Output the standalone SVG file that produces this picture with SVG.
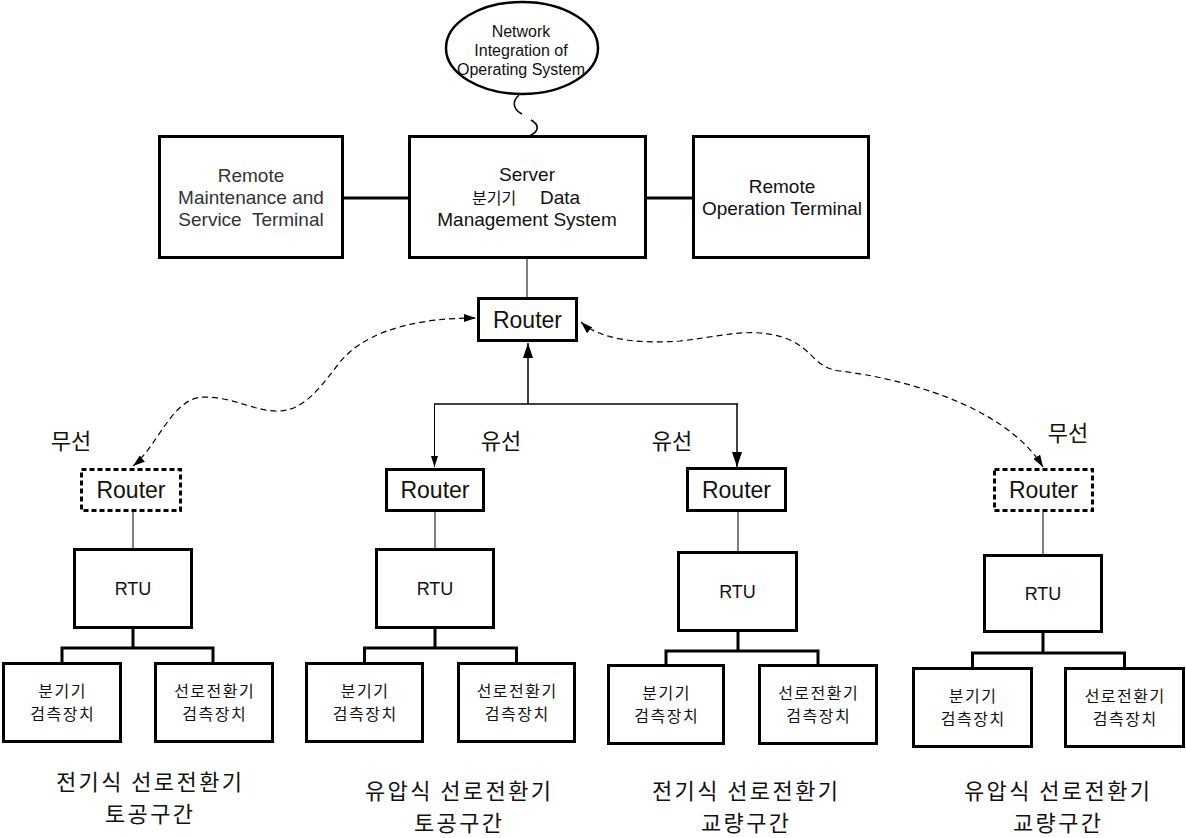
<svg xmlns="http://www.w3.org/2000/svg" width="1186" height="838" viewBox="0 0 1186 838">
<style>
text{fill:#111;}
.lat{font-family:"Liberation Sans","Noto Sans CJK KR",sans-serif;}
.kr{font-family:"Noto Sans CJK KR","Liberation Sans",sans-serif;}
.box{fill:#fff;stroke:#000;stroke-width:3;}
.dbox{fill:#fff;stroke:#000;stroke-width:3;stroke-dasharray:5 3;}
.thin{fill:none;stroke:#000;stroke-width:1;}
.mid{fill:none;stroke:#000;stroke-width:1.5;}
.thick{fill:none;stroke:#000;stroke-width:3;}
.wave{fill:none;stroke:#000;stroke-width:1.2;stroke-dasharray:6 4;}
.t19{font-size:19px;text-anchor:middle;white-space:pre;}
.t16{font-size:16px;text-anchor:middle;}
.rt{font-size:23px;text-anchor:middle;}
.rtu{font-size:18px;text-anchor:middle;}
.sub{font-size:16px;letter-spacing:1.5px;text-anchor:middle;}
.lab{font-size:22px;text-anchor:middle;}
.cap{font-size:22px;letter-spacing:2.4px;text-anchor:middle;}
</style>
<defs>
<marker id="ahBig" markerUnits="userSpaceOnUse" markerWidth="15" markerHeight="10" refX="15" refY="5" orient="auto-start-reverse"><path d="M0,0 L15,5 L0,10 z" fill="#000"/></marker>
<marker id="ahSmall" markerUnits="userSpaceOnUse" markerWidth="11" markerHeight="7" refX="11" refY="3.5" orient="auto-start-reverse"><path d="M0,0 L11,3.5 L0,7 z" fill="#000"/></marker>
<marker id="ahDash" markerUnits="userSpaceOnUse" markerWidth="12" markerHeight="8" refX="12" refY="4" orient="auto-start-reverse"><path d="M0,0 L12,4 L0,8 z" fill="#000"/></marker>
</defs>

<g id="connectors">
<line class="thick" x1="344" y1="198" x2="409" y2="198"/>
<line class="thick" x1="646" y1="198" x2="693" y2="198"/>
<path class="thin" d="M519 95 C511 102,514 110,522 114" style="stroke-width:1.6"/>
<path class="thin" d="M531 120 C540 125,539 132,529 136" style="stroke-width:1.6"/>
<line class="thin" x1="527" y1="259" x2="527" y2="297"/>
<line class="mid" x1="528" y1="404" x2="528" y2="343" marker-end="url(#ahBig)"/>
<line class="mid" x1="434" y1="404" x2="738" y2="404"/>
<line class="thin" x1="434.5" y1="404" x2="434.5" y2="467" marker-end="url(#ahSmall)"/>
<line class="mid" x1="737" y1="404" x2="737" y2="467" marker-end="url(#ahBig)"/>
<path class="wave" d="M133 466 C158 446,172 398,203 397 C235 397,255 412,280 411 C305 410,322 385,340 362 C360 338,400 318,476 318" marker-start="url(#ahDash)" marker-end="url(#ahDash)"/>
<path class="wave" d="M581 322 C600 340,640 344,680 341 C720 337,755 325,790 340 C815 352,815 368,840 371 C900 378,1005 405,1043 467" marker-start="url(#ahDash)" marker-end="url(#ahDash)"/>
<line class="thin" x1="133" y1="512" x2="133" y2="548"/>
<line class="thin" x1="435" y1="512" x2="435" y2="548"/>
<line class="thin" x1="738" y1="512" x2="738" y2="551"/>
<line class="thin" x1="1043" y1="512" x2="1043" y2="554"/>
<path class="thick" d="M133 629 V648 M62 662 V648 H213 V662"/>
<path class="thick" d="M435 629 V648 M364.5 662 V648 H516.5 V662"/>
<path class="thick" d="M738 632 V651 M666 664 V651 H818 V664"/>
<path class="thick" d="M1043 633 V653 M972.5 667 V653 H1124.5 V667"/>
</g>

<g id="cloud">
<ellipse cx="522" cy="48" rx="76" ry="46" fill="#fff" stroke="#000" stroke-width="2.5"/>
<text class="lat t16" x="521" y="37">Network</text>
<text class="lat t16" x="521" y="56">Integration of</text>
<text class="lat t16" x="521" y="75">Operating System</text>
</g>

<g id="maintenance">
<rect class="box" x="159.5" y="136.5" width="183" height="121"/>
<text class="lat t19" x="251" y="182" style="fill:#333">Remote</text>
<text class="lat t19" x="251" y="204" style="fill:#333">Maintenance and</text>
<text class="lat t19" x="251" y="226" style="fill:#333">Service  Terminal</text>
</g>

<g id="server">
<rect class="box" x="409.5" y="136.5" width="236" height="121"/>
<text class="lat t19" x="527" y="181">Server</text>
<text class="lat" x="472" y="204" style="font-size:19px"><tspan class="kr" style="font-size:16px">분기기 </tspan><tspan x="540">Data</tspan></text>
<text class="lat t19" x="527" y="226">Management System</text>
</g>

<g id="operation">
<rect class="box" x="693.5" y="136.5" width="175" height="121"/>
<text class="lat t19" x="782" y="193">Remote</text>
<text class="lat t19" x="782" y="215">Operation Terminal</text>
</g>

<g id="router-main">
<rect class="box" x="478.5" y="298.5" width="98" height="42"/>
<text class="lat rt" x="527.5" y="327.5">Router</text>
</g>

<g id="label-wireless-1"><text class="kr lab" x="71" y="449">무선</text></g>
<g id="label-wired-1"><text class="kr lab" x="501" y="449">유선</text></g>
<g id="label-wired-2"><text class="kr lab" x="672" y="449">유선</text></g>
<g id="label-wireless-2"><text class="kr lab" x="1068" y="441">무선</text></g>

<g id="router-1">
<rect class="dbox" x="81.5" y="469.5" width="99" height="41"/>
<text class="lat rt" x="131" y="498">Router</text>
</g>
<g id="router-2">
<rect class="box" x="386.5" y="469.5" width="97" height="41"/>
<text class="lat rt" x="435" y="498">Router</text>
</g>
<g id="router-3">
<rect class="box" x="687.5" y="468.5" width="98" height="42"/>
<text class="lat rt" x="736.5" y="498">Router</text>
</g>
<g id="router-4">
<rect class="dbox" x="994.5" y="469.5" width="98" height="41"/>
<text class="lat rt" x="1043.5" y="498">Router</text>
</g>

<g id="rtu-1">
<rect class="box" x="74.5" y="549.5" width="117" height="78"/>
<text class="lat rtu" x="133" y="595">RTU</text>
</g>
<g id="rtu-2">
<rect class="box" x="376.5" y="549.5" width="117" height="78"/>
<text class="lat rtu" x="435" y="595">RTU</text>
</g>
<g id="rtu-3">
<rect class="box" x="678.5" y="552.5" width="118" height="78"/>
<text class="lat rtu" x="737.5" y="598">RTU</text>
</g>
<g id="rtu-4">
<rect class="box" x="984.5" y="555.5" width="117" height="76"/>
<text class="lat rtu" x="1043" y="600">RTU</text>
</g>

<g id="branch-detector-1">
<rect class="box" x="3.5" y="663.5" width="117" height="78"/>
<text class="kr sub" x="62.7" y="696.5">분기기</text>
<text class="kr sub" x="62.7" y="720">검측장치</text>
</g>
<g id="switch-detector-1">
<rect class="box" x="155.5" y="663.5" width="117" height="78"/>
<text class="kr sub" x="214.7" y="696.5">선로전환기</text>
<text class="kr sub" x="214.7" y="720">검측장치</text>
</g>
<g id="branch-detector-2">
<rect class="box" x="306.5" y="663.5" width="116" height="78"/>
<text class="kr sub" x="365.2" y="696.5">분기기</text>
<text class="kr sub" x="365.2" y="720">검측장치</text>
</g>
<g id="switch-detector-2">
<rect class="box" x="458.5" y="663.5" width="116" height="78"/>
<text class="kr sub" x="517.2" y="696.5">선로전환기</text>
<text class="kr sub" x="517.2" y="720">검측장치</text>
</g>
<g id="branch-detector-3">
<rect class="box" x="608.5" y="665.5" width="115" height="78"/>
<text class="kr sub" x="666.7" y="698.5">분기기</text>
<text class="kr sub" x="666.7" y="722">검측장치</text>
</g>
<g id="switch-detector-3">
<rect class="box" x="759.5" y="665.5" width="117" height="78"/>
<text class="kr sub" x="818.7" y="698.5">선로전환기</text>
<text class="kr sub" x="818.7" y="722">검측장치</text>
</g>
<g id="branch-detector-4">
<rect class="box" x="913.5" y="668.5" width="118" height="78"/>
<text class="kr sub" x="973.2" y="701.5">분기기</text>
<text class="kr sub" x="973.2" y="725">검측장치</text>
</g>
<g id="switch-detector-4">
<rect class="box" x="1065.5" y="668.5" width="118" height="78"/>
<text class="kr sub" x="1125.2" y="701.5">선로전환기</text>
<text class="kr sub" x="1125.2" y="725">검측장치</text>
</g>

<g id="caption-1">
<text class="kr cap" x="150.2" y="790">전기식 선로전환기</text>
<text class="kr cap" x="150.2" y="822">토공구간</text>
</g>
<g id="caption-2">
<text class="kr cap" x="459.2" y="799">유압식 선로전환기</text>
<text class="kr cap" x="459.2" y="831">토공구간</text>
</g>
<g id="caption-3">
<text class="kr cap" x="746.2" y="799">전기식 선로전환기</text>
<text class="kr cap" x="746.2" y="831">교량구간</text>
</g>
<g id="caption-4">
<text class="kr cap" x="1058.2" y="799">유압식 선로전환기</text>
<text class="kr cap" x="1058.2" y="831">교량구간</text>
</g>
</svg>
